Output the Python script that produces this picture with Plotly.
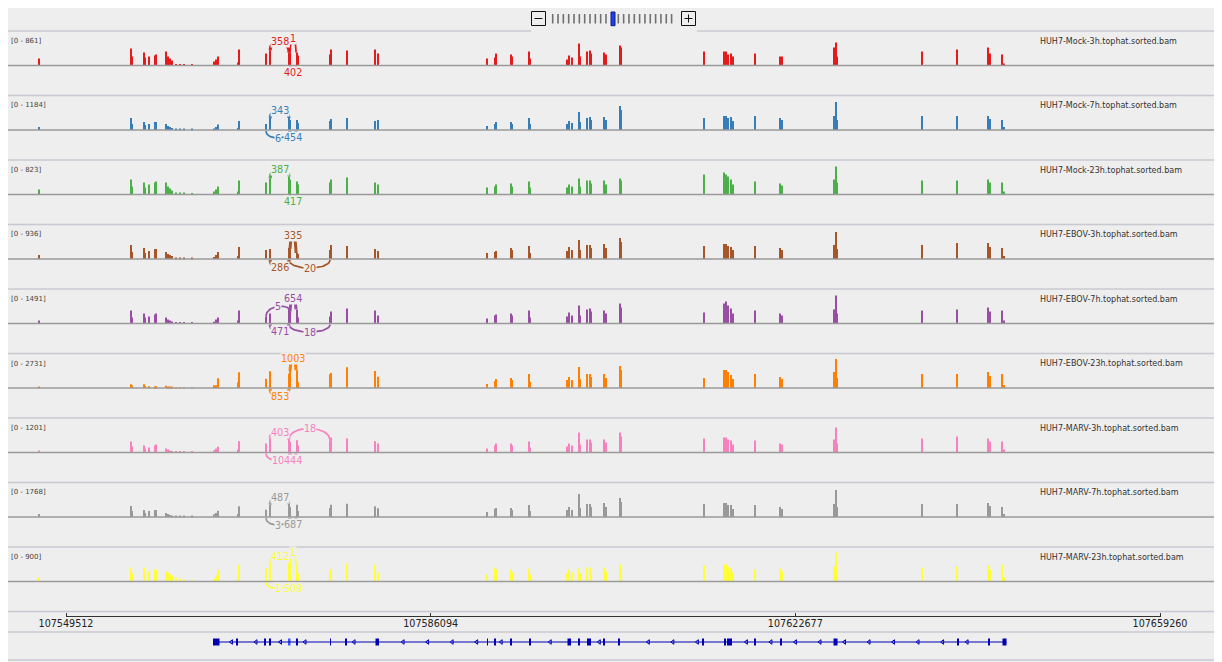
import numpy as np
import plotly.graph_objects as go

# ---------------- data ----------------
track_names = ["HUH7-Mock-3h.tophat.sorted.bam", "HUH7-Mock-7h.tophat.sorted.bam",
               "HUH7-Mock-23h.tophat.sorted.bam", "HUH7-EBOV-3h.tophat.sorted.bam",
               "HUH7-EBOV-7h.tophat.sorted.bam", "HUH7-EBOV-23h.tophat.sorted.bam",
               "HUH7-MARV-3h.tophat.sorted.bam", "HUH7-MARV-7h.tophat.sorted.bam",
               "HUH7-MARV-23h.tophat.sorted.bam"]
scale_max = [861, 1184, 823, 936, 1491, 2731, 1201, 1768, 900]

positions = [107546803, 107556033, 107556133, 107557337, 107557437, 107557839,
             107558440, 107558541, 107559544, 107559745, 107559945, 107560146,
             107560547, 107560948, 107561350, 107562152, 107564359, 107564560,
             107564761, 107566767, 107566867, 107569576, 107569977, 107571883,
             107571983, 107572686, 107572786, 107575996, 107576096, 107577702,
             107580511, 107580812, 107591747, 107592549, 107592649, 107594154,
             107594254, 107595960, 107596060, 107599772, 107599972, 107600274,
             107600976, 107601076, 107601779, 107602080, 107602180, 107603484,
             107603684, 107605089, 107605189, 107613516, 107615523, 107615723,
             107615924, 107616225, 107616425, 107618632, 107621140, 107621340,
             107626558, 107626759, 107626859, 107635386, 107638897, 107642007,
             107642207, 107643412, 107643612]

cov_mock_3h = [183,444,235,339,209,235,261,287,365,235,183,130,39,39,39,39,104,157,235,78,417,313,391,339,339,339,261,287,417,391,417,313,183,209,313,287,235,365,183,157,261,209,574,235,365,391,313,339,287,522,470,365,365,365,287,313,235,313,235,235,470,600,235,365,417,470,313,287,52]
cov_mock_7h = [108,431,215,287,179,215,287,287,215,144,108,72,36,36,36,36,54,108,197,72,323,215,431,431,359,359,251,323,395,431,323,359,144,215,287,287,215,431,215,215,323,251,646,287,431,466,359,466,359,861,718,431,502,502,431,466,323,502,431,359,502,1005,359,502,502,502,395,359,108]
cov_mock_23h = [125,374,200,299,175,249,299,324,299,200,150,100,50,50,50,37,75,125,200,75,349,299,399,449,374,324,249,299,374,424,299,249,175,200,249,274,200,324,175,175,249,200,399,200,349,349,274,349,249,399,349,499,549,499,449,374,249,324,274,224,374,698,299,349,349,374,299,299,75]
cov_ebov_3h = [113,397,199,312,170,227,284,284,199,142,113,85,28,28,28,28,57,113,199,85,340,255,284,312,284,170,142,255,397,369,284,227,170,199,227,312,255,369,170,227,340,255,539,255,397,397,312,425,312,596,482,369,425,425,369,340,255,369,312,255,397,766,284,397,454,454,340,312,85]
cov_ebov_7h = [136,587,271,452,271,316,407,452,271,181,136,90,45,45,45,45,77,181,271,136,587,316,452,633,542,633,271,316,542,678,587,361,226,361,407,452,361,587,271,316,497,361,813,361,633,678,542,587,452,904,723,497,904,994,813,678,452,587,452,361,633,1265,452,587,633,723,542,587,136]
cov_ebov_23h = [83,306,207,306,166,141,141,141,190,108,99,99,41,41,41,41,223,223,803,472,1299,770,1382,1183,1407,1465,472,1134,1241,1713,1407,935,331,579,745,828,662,1159,497,662,910,662,1738,745,1159,1159,910,1159,828,1821,1490,828,1490,1490,1324,1076,745,1159,910,745,1324,2400,828,1159,1159,1324,993,1159,248]
cov_marv_3h = [73,400,218,255,146,182,255,291,146,109,73,55,36,36,36,36,84,146,207,109,411,328,535,473,400,448,255,437,546,509,411,328,146,255,328,328,255,400,182,218,328,255,728,291,473,473,364,473,364,728,582,509,546,546,473,437,291,437,328,291,473,910,328,509,582,509,400,400,109]
cov_marv_7h = [161,589,321,375,214,321,375,375,214,161,107,80,54,54,54,54,145,214,338,161,573,391,659,697,536,659,321,482,659,713,573,466,268,429,482,482,375,643,321,375,536,375,1232,482,697,697,536,750,536,1018,804,697,750,750,643,643,429,643,536,429,697,1447,536,697,697,750,589,536,161]
cov_marv_23h = [109,382,218,382,218,273,327,327,273,245,191,164,109,82,55,27,74,164,319,109,455,363,499,483,409,455,218,273,335,499,455,245,191,382,327,327,245,355,191,218,327,245,355,218,382,382,300,382,273,464,382,436,464,464,409,355,245,327,355,273,409,791,300,382,409,436,327,464,109]

# junction ends (genomic)
EX_A2, EX_A, EX_B, EX_B2, EX_C, EX_D = 107569576, 107569977, 107571883, 107571983, 107572586, 107575996
# (start, end, reads, side: +1 above / -1 below)
junc_mock_3h = [(EX_A, EX_B, 358, 1), (EX_B2, EX_C, 1, 1), (EX_B2, EX_C, 402, -1)]
junc_mock_7h = [(EX_A, EX_B, 343, 1), (EX_A2, EX_B, 6, -1), (EX_B2, EX_C, 454, -1)]
junc_mock_23h = [(EX_A, EX_B, 387, 1), (EX_B2, EX_C, 417, -1)]
junc_ebov_3h = [(EX_B2, EX_C, 335, 1), (EX_A, EX_B, 286, -1), (EX_B, EX_D, 20, -1)]
junc_ebov_7h = [(EX_B2, EX_C, 654, 1), (EX_A2, EX_B, 5, 1), (EX_A, EX_B, 471, -1), (EX_B, EX_D, 18, -1)]
junc_ebov_23h = [(EX_B2, EX_C, 1003, 1), (EX_A, EX_B, 853, -1)]
junc_marv_3h = [(EX_A, EX_B, 403, 1), (EX_B, EX_D, 18, 1), (EX_A2, EX_B, 10, -1), (EX_B2, EX_C, 444, -1)]
junc_marv_7h = [(EX_A, EX_B, 487, 1), (EX_A2, EX_B, 3, -1), (EX_B2, EX_C, 687, -1)]
junc_marv_23h = [(EX_A, EX_B, 412, 1), (EX_B2, EX_C, 1, 1), (EX_A2, EX_B, 1, -1), (EX_B2, EX_C, 509, -1)]

gene_exon_starts = [107564259, 107566616, 107569425, 107569927, 107571783, 107572635, 107575996,
                    107577551, 107580560, 107591776, 107592529, 107594104, 107596010, 107599822,
                    107600926, 107601829, 107602030, 107603434, 107604939, 107613396, 107615573,
                    107615824, 107618582, 107621140, 107626508, 107638947, 107642055, 107643460]
gene_exon_ends = [107564911, 107566767, 107569525, 107570027, 107572033, 107572736, 107576096,
                  107577651, 107580912, 107591826, 107592650, 107594204, 107596110, 107600174,
                  107601026, 107601929, 107602130, 107603534, 107605089, 107613446, 107615723,
                  107616325, 107618682, 107621240, 107626909, 107639047, 107642155, 107643861]
highlight_exon = 4

tick_vals = [107549512, 107586094, 107622677, 107659260]
tick_text = ["107549512", "107586094", "107622677", "107659260"]

# ---------------- styles / layout geometry ----------------
colors = ['#e41a1c', '#377eb8', '#4daf4a', '#a65628', '#984ea3', '#ff7f00', '#f781bf', '#999999', '#ffff33']
arc_lift = [[9, 14, 6.5], [7, 8, 7], [7, 6.5], [13, 8, 9], [11, 3, 7.5, 8.5], [12, 8],
            [5, 11, 8, 8], [6, 8, 7], [7, 12, 7, 7]]
covs = [cov_mock_3h, cov_mock_7h, cov_mock_23h, cov_ebov_3h, cov_ebov_7h, cov_ebov_23h,
        cov_marv_3h, cov_marv_7h, cov_marv_23h]
juncs = [junc_mock_3h, junc_mock_7h, junc_mock_23h, junc_ebov_3h, junc_ebov_7h, junc_ebov_23h,
         junc_marv_3h, junc_marv_7h, junc_marv_23h]

# page is shown with an 8px body margin: figure covers page pixels 8..1222 / 8..662
OFF = 8
W, H = 1222 - OFF, 662 - OFF
PL, PR, PT, PB = 8.0, 1220.0, 31.0, 660.0          # plot area in page pixels
TRACK_H, BASE_OFF, SCALE_PX = 64.5, 34.5, 33.0
BG = '#eeeeee'
SEP = '#c8c8d0'
FONT = 'DejaVu Sans'
BP_PER_PX = (tick_vals[-1] - tick_vals[0]) / (1160 - 66)
x_range = [tick_vals[0] - (66 - PL) * BP_PER_PX, tick_vals[0] + (PR - 66) * BP_PER_PX]


def py(y):
    return (PB - y) / (PB - PT)


def pxx(x):
    return (x - PL) / (PR - PL)


def arc(x1, x2, y1, y2, ypk, n=40):
    yc = (ypk - (y1 + y2) / 8.0) / 0.75
    t = np.linspace(0, 1, n)
    a, b, c, d = (1 - t) ** 3, 3 * (1 - t) ** 2 * t, 3 * (1 - t) * t ** 2, t ** 3
    return (a + b) * x1 + (c + d) * x2, a * y1 + (b + c) * yc + d * y2


pos_arr = np.array(positions)
fig = go.Figure()
shapes, annos = [], []
layout_axes = {}

for i in range(9):
    yname = 'y' if i == 0 else f'y{i + 1}'
    lname = 'yaxis' if i == 0 else f'yaxis{i + 1}'
    top = PT + TRACK_H * i
    bot = top + TRACK_H
    u = scale_max[i] / SCALE_PX
    layout_axes[lname] = dict(domain=[py(bot), py(top)], range=[-(TRACK_H - BASE_OFF) * u, BASE_OFF * u],
                              visible=False, fixedrange=True, anchor='x')
    cov = covs[i]
    fig.add_trace(go.Bar(x=positions, y=cov, width=150, marker=dict(color=colors[i], line=dict(width=0)),
                         xaxis='x', yaxis=yname, hoverinfo='skip', showlegend=False))
    # junction arcs
    for (s, e, n, side), lift in zip(juncs[i], arc_lift[i]):
        if side > 0:
            y1 = cov[int(np.argmin(np.abs(pos_arr - s)))]
            y2 = cov[int(np.argmin(np.abs(pos_arr - e)))]
            pk = max(y1, y2) + lift * u
        else:
            y1 = y2 = -1.0 * u
            pk = -lift * u
        xs, ys = arc(s, e, y1, y2, pk)
        fig.add_trace(go.Scatter(x=xs, y=ys, mode='lines', line=dict(color=colors[i], width=3 if n >= 100 else 1.7),
                                 xaxis='x', yaxis=yname, hoverinfo='skip', showlegend=False))
        annos.append(dict(x=(s + e) / 2, y=pk, xref='x', yref=yname, text=str(n), showarrow=False,
                          font=dict(family=FONT, size=9.6, color=colors[i]), bgcolor=BG, borderpad=0,
                          xanchor='center', yanchor='middle'))
    # baseline
    shapes.append(dict(type='line', xref='paper', yref=yname, x0=0, x1=1, y0=0, y1=0,
                       line=dict(color='#9a9a9a', width=1.6)))
    # separators
    if i == 0:
        shapes.append(dict(type='line', xref='paper', yref='paper', x0=0, x1=pxx(531), y0=py(top), y1=py(top),
                           line=dict(color=SEP, width=1.5)))
        shapes.append(dict(type='line', xref='paper', yref='paper', x0=pxx(697), x1=1, y0=py(top), y1=py(top),
                           line=dict(color=SEP, width=1.5)))
    else:
        shapes.append(dict(type='line', xref='paper', yref='paper', x0=0, x1=1, y0=py(top), y1=py(top),
                           line=dict(color=SEP, width=1.5)))
    annos.append(dict(x=pxx(9), y=py(top + 10), xref='paper', yref='paper', xanchor='left', yanchor='middle',
                      text=f'[0 - {scale_max[i]}]', showarrow=False, font=dict(family=FONT, size=7, color='#444')))
    annos.append(dict(x=pxx(1038), y=py(top + 10), xref='paper', yref='paper', xanchor='left', yanchor='middle',
                      text=track_names[i], showarrow=False, font=dict(family=FONT, size=8, color='#333')))

for yy in (PT + 9 * TRACK_H, 632, 660):
    shapes.append(dict(type='line', xref='paper', yref='paper', x0=0, x1=1, y0=py(yy), y1=py(yy),
                       line=dict(color=SEP, width=1.5)))

# gene track
GENE_BLUE = '#0000b2'
layout_axes['yaxis10'] = dict(domain=[py(660), py(632)], range=[-18, 10], visible=False, fixedrange=True, anchor='x')
g0, g1 = gene_exon_starts[0], gene_exon_ends[-1]
fig.add_trace(go.Scatter(x=[g0, g1], y=[0, 0], mode='lines', line=dict(color=GENE_BLUE, width=1),
                         xaxis='x', yaxis='y10', hoverinfo='skip', showlegend=False))
chev = [g for g in np.arange(g0 + 1850, g1 - 400, 2460)
        if all(abs(g - (s + e) / 2) > (e - s) / 2 + 400 for s, e in zip(gene_exon_starts, gene_exon_ends))]
fig.add_trace(go.Scatter(x=chev, y=[0] * len(chev), mode='markers',
                         marker=dict(symbol='triangle-left-open', size=4, color=GENE_BLUE, line=dict(width=1)),
                         xaxis='x', yaxis='y10', hoverinfo='skip', showlegend=False))
ex_c = [(s + e) / 2 for s, e in zip(gene_exon_starts, gene_exon_ends)]
ex_w = [max(e - s, 90) for s, e in zip(gene_exon_starts, gene_exon_ends)]
ex_col = ['#3c5aff' if k == highlight_exon else GENE_BLUE for k in range(len(ex_c))]
fig.add_trace(go.Bar(x=ex_c, y=[7] * len(ex_c), base=-3.5, width=ex_w,
                     marker=dict(color=ex_col, line=dict(width=0)),
                     xaxis='x', yaxis='y10', hoverinfo='skip', showlegend=False))

# ruler
shapes.append(dict(type='line', xref='x', yref='paper', x0=tick_vals[0], x1=tick_vals[-1],
                   y0=py(616.5), y1=py(616.5), line=dict(color='#333', width=1)))

# zoom widget (top)
blk = dict(color='#111', width=1)
shapes += [
    dict(type='rect', xref='paper', yref='paper', x0=pxx(531.5), x1=pxx(545.5), y0=py(25.5), y1=py(11.5), line=blk),
    dict(type='line', xref='paper', yref='paper', x0=pxx(534.5), x1=pxx(542.5), y0=py(18.5), y1=py(18.5), line=blk),
    dict(type='rect', xref='paper', yref='paper', x0=pxx(681.5), x1=pxx(695.5), y0=py(25.5), y1=py(11.5), line=blk),
    dict(type='line', xref='paper', yref='paper', x0=pxx(684.5), x1=pxx(692.5), y0=py(18.5), y1=py(18.5), line=blk),
    dict(type='line', xref='paper', yref='paper', x0=pxx(688.5), x1=pxx(688.5), y0=py(22.5), y1=py(14.5), line=blk),
]
for k in range(11):
    for x0 in (552.7 + 5.33 * k, 618.3 + 5.33 * k):
        shapes.append(dict(type='line', xref='paper', yref='paper', x0=pxx(x0), x1=pxx(x0), y0=py(23.5), y1=py(14),
                           line=dict(color='#707070', width=1.6)))
shapes.append(dict(type='rect', xref='paper', yref='paper', x0=pxx(611), x1=pxx(615), y0=py(25.7), y1=py(12),
                   fillcolor='#1f3ff0', line=dict(color='#0a1a80', width=1)))

fig.update_layout(
    width=W, height=H, margin=dict(l=PL - OFF, r=1222 - PR, t=PT - OFF, b=662 - PB, pad=0),
    paper_bgcolor=BG, plot_bgcolor='rgba(0,0,0,0)', barmode='overlay', hovermode=False,
    showlegend=False, shapes=shapes, annotations=annos,
    xaxis=dict(range=x_range, domain=[0, 1], anchor='free', position=py(616.5), side='bottom',
               tickvals=tick_vals, ticktext=tick_text, ticks='inside', ticklen=4, tickwidth=1, tickcolor='#333',
               showgrid=False, zeroline=False, showline=False, fixedrange=True,
               tickfont=dict(family=FONT, size=9.6, color='#222')),
    **layout_axes,
)
fig.write_html("out.html")
